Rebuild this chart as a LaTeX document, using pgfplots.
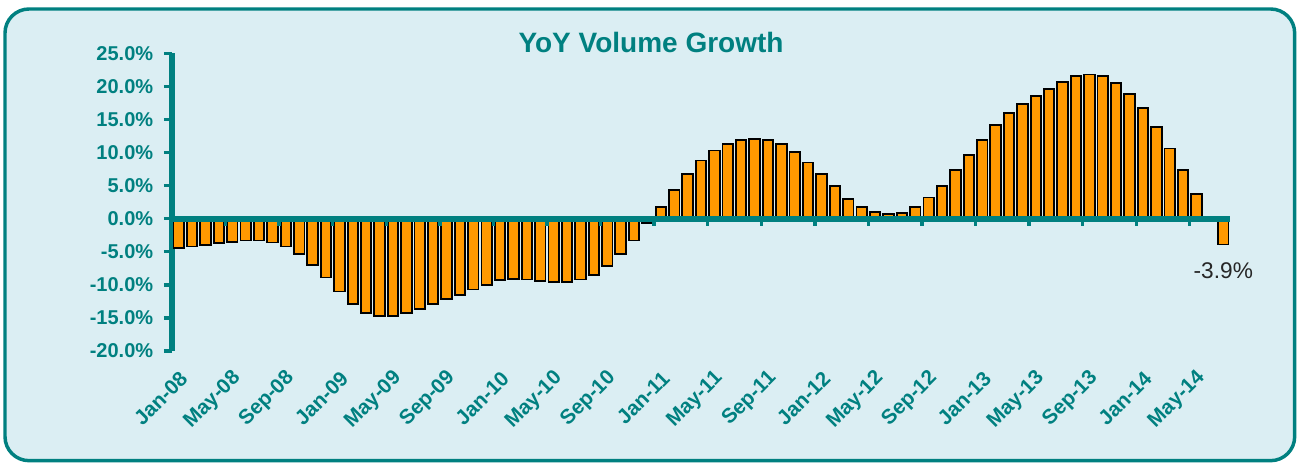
\documentclass[border=0pt]{standalone}
\usepackage{fontspec}
\setmainfont{Liberation Sans}
\usepackage{pgfplots}
\pgfplotsset{compat=1.18}
\definecolor{tealc}{RGB}{0,128,128}
\definecolor{bgc}{RGB}{219,238,243}
\definecolor{barc}{RGB}{255,153,0}

\begin{document}
\begin{tikzpicture}
\path[use as bounding box] (0,0) rectangle (972.75pt,-347.25pt);
\draw[tealc, line width=2.6pt, fill=bgc, rounded corners=18pt] (3.75pt,-6.75pt) rectangle (971pt,-345.5pt);
\node[anchor=base, font=\fontsize{21}{25}\selectfont\bfseries, text=tealc, inner sep=0pt] at (488.25pt,-39.75pt) {YoY Volume Growth};
\begin{axis}[
  at={(129pt,-263.25pt)}, anchor=south west,
  scale only axis, width=793.5pt, height=223.3pt,
  xmin=0.5, xmax=79.5, ymin=-20, ymax=25,
  clip=false,
  axis x line=bottom, axis y line=left,
  x axis line style={draw=none},
  y axis line style={-, tealc, line width=4pt},
  tick align=outside,
  major tick length=6pt,
  xtick style={draw=none},
  ytick style={tealc, line width=2.5pt},
  ytick={-20,-15,-10,-5,0,5,10,15,20,25},
  yticklabels={-20.0\%,-15.0\%,-10.0\%,-5.0\%,0.0\%,5.0\%,10.0\%,15.0\%,20.0\%,25.0\%},
  xtick={1,5,...,77},
  xticklabels={Jan-08,May-08,Sep-08,Jan-09,May-09,Sep-09,Jan-10,May-10,Sep-10,Jan-11,May-11,Sep-11,Jan-12,May-12,Sep-12,Jan-13,May-13,Sep-13,Jan-14,May-14},
  yticklabel style={font=\fontsize{15}{18}\selectfont\bfseries, text=tealc, inner sep=0pt, xshift=-7.9pt},
  xticklabel style={font=\fontsize{15.5}{18}\selectfont\bfseries, text=tealc, inner sep=0pt, xshift=4pt, yshift=-12pt, rotate=45, anchor=east},
]
\addplot[ybar, bar width=0.78, fill=barc, draw=black, line width=1.4pt] coordinates {
(1,-4.4) (2,-4.2) (3,-4.0) (4,-3.7) (5,-3.5) (6,-3.3) (7,-3.3) (8,-3.6) (9,-4.2) (10,-5.3)
(11,-7.0) (12,-8.9) (13,-11.0) (14,-12.9) (15,-14.2) (16,-14.7) (17,-14.7) (18,-14.3) (19,-13.6) (20,-12.9)
(21,-12.1) (22,-11.5) (23,-10.7) (24,-10.0) (25,-9.3) (26,-9.1) (27,-9.2) (28,-9.4) (29,-9.6) (30,-9.6)
(31,-9.2) (32,-8.5) (33,-7.2) (34,-5.3) (35,-3.3) (36,-0.6) (37,1.8) (38,4.3) (39,6.8) (40,8.8)
(41,10.3) (42,11.3) (43,11.9) (44,12.1) (45,11.9) (46,11.3) (47,10.1) (48,8.5) (49,6.7) (50,4.9)
(51,3.0) (52,1.8) (53,1.0) (54,0.75) (55,0.9) (56,1.8) (57,3.2) (58,5.0) (59,7.3) (60,9.6)
(61,11.9) (62,14.1) (63,16.0) (64,17.3) (65,18.5) (66,19.6) (67,20.7) (68,21.5) (69,21.8) (70,21.6)
(71,20.5) (72,18.9) (73,16.7) (74,13.8) (75,10.6) (76,7.4) (77,3.7) (79,-3.9)
};
\draw[tealc, line width=4.5pt] (axis cs:0.5,0) -- (axis cs:79.5,0);
\pgfplotsinvokeforeach{4.5,8.5,12.5,16.5,20.5,24.5,28.5,32.5,36.5,40.5,44.5,48.5,52.5,56.5,60.5,64.5,68.5,72.5,76.5}{
  \draw[tealc, line width=2.5pt] (axis cs:#1,0) -- ++(0pt,-5.5pt);
}
\node[font=\fontsize{17}{20}\selectfont, text=black!85, yshift=-20pt] at (axis cs:79,-3.9) {-3.9\%};
\end{axis}
\end{tikzpicture}
\end{document}
